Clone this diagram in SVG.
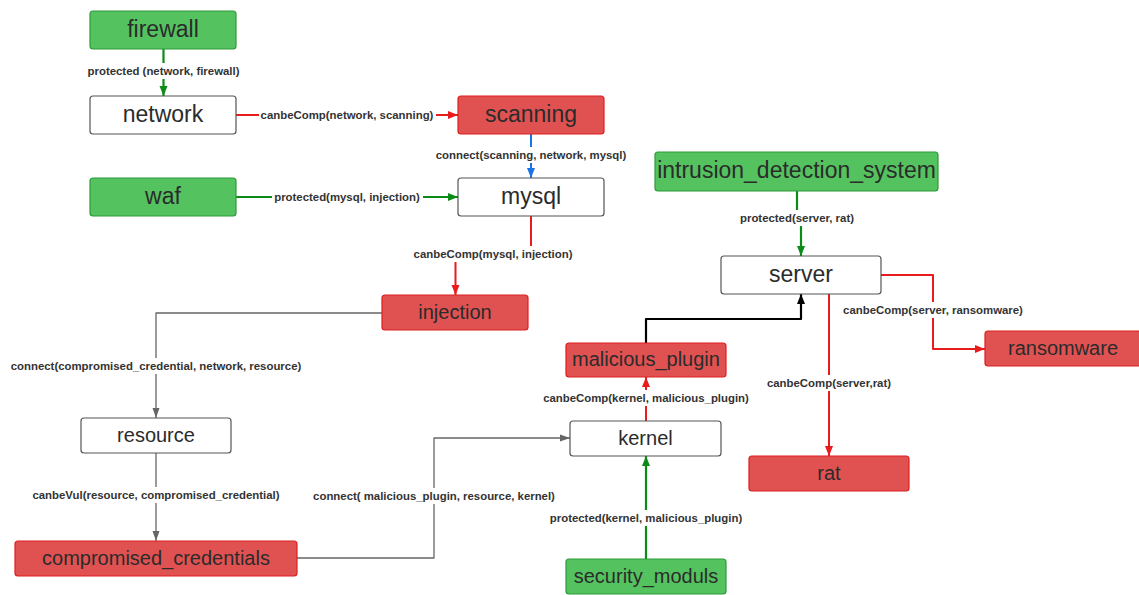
<svg xmlns="http://www.w3.org/2000/svg" width="1139" height="595" viewBox="0 0 1139 595">
<style>
.n rect{rx:3;ry:3;stroke-width:1.2}
.g rect{fill:#54c35f;stroke:#2e9a3a}
.r rect{fill:#e05252;stroke:#e01e1e}
.w rect{fill:#fff;stroke:#555}
.n text{font-family:"Liberation Sans",Arial,sans-serif;fill:#2b2b2b;text-anchor:middle;dominant-baseline:central}
.big{font-size:23px}
.sm{font-size:20px}
.e path{fill:none;stroke-linejoin:round}
.lg{stroke:#0b8c16;stroke-width:2.2}
.lr{stroke:#e81c1c;stroke-width:2}
.lb{stroke:#1a73e8;stroke-width:2}
.lk{stroke:#000;stroke-width:2.2}
.ly{stroke:#666;stroke-width:1.3}
.lbl rect{fill:#fff}
.lbl text{font-family:"Liberation Sans",Arial,sans-serif;font-weight:bold;font-size:11.4px;fill:#333;text-anchor:middle;dominant-baseline:central}
</style>
<defs>
<marker id="ag" markerUnits="userSpaceOnUse" markerWidth="10" markerHeight="10" viewBox="0 0 10 10" refX="10" refY="5" orient="auto"><path d="M0,1 L10,5 L0,9 Z" fill="#0b8c16"/></marker>
<marker id="ar" markerUnits="userSpaceOnUse" markerWidth="10" markerHeight="10" viewBox="0 0 10 10" refX="10" refY="5" orient="auto"><path d="M0,1 L10,5 L0,9 Z" fill="#e81c1c"/></marker>
<marker id="ab" markerUnits="userSpaceOnUse" markerWidth="10" markerHeight="10" viewBox="0 0 10 10" refX="10" refY="5" orient="auto"><path d="M0,1 L10,5 L0,9 Z" fill="#1a73e8"/></marker>
<marker id="ak" markerUnits="userSpaceOnUse" markerWidth="10" markerHeight="10" viewBox="0 0 10 10" refX="10" refY="5" orient="auto"><path d="M0,1 L10,5 L0,9 Z" fill="#000"/></marker>
<marker id="ay" markerUnits="userSpaceOnUse" markerWidth="10" markerHeight="10" viewBox="0 0 10 10" refX="10" refY="5" orient="auto"><path d="M0,1.5 L10,5 L0,8.5 Z" fill="#666"/></marker>
</defs>
<rect width="1139" height="595" fill="#fff"/>
<g id="connectors" class="e">
<path class="lg" d="M163.5,49 V96" marker-end="url(#ag)"/>
<path class="lr" d="M236,115 H458" marker-end="url(#ar)"/>
<path class="lb" d="M531,134 V178" marker-end="url(#ab)"/>
<path class="lg" d="M236,197 H458" marker-end="url(#ag)"/>
<path class="lr" d="M531,216 V254 H455.5 V295" marker-end="url(#ar)"/>
<path class="lg" d="M797,191 V218 H801 V256" marker-end="url(#ag)"/>
<path class="lr" d="M881,275 H933 V349 H985" marker-end="url(#ar)"/>
<path class="lr" d="M829,294 V456" marker-end="url(#ar)"/>
<path class="ly" d="M382,313 H156 V418" marker-end="url(#ay)"/>
<path class="ly" d="M156,453 V541" marker-end="url(#ay)"/>
<path class="ly" d="M297,558 H434 V438 H570" marker-end="url(#ay)"/>
<path class="lr" d="M646,421 V377" marker-end="url(#ar)"/>
<path class="lk" d="M646,343 V319 H801 V294" marker-end="url(#ak)"/>
<path class="lg" d="M646,559 V456" marker-end="url(#ag)"/>
<g class="lbl">
<rect x="85" y="63" width="157" height="16"/><text x="163.5" y="71">protected (network, firewall)</text>
<rect x="259" y="107" width="177" height="16"/><text x="347" y="115">canbeComp(network, scanning)</text>
<rect x="433" y="147" width="196" height="16"/><text x="531" y="155">connect(scanning, network, mysql)</text>
<rect x="272" y="189" width="151" height="16"/><text x="347" y="197">protected(mysql, injection)</text>
<rect x="411" y="246" width="164" height="16"/><text x="493" y="254">canbeComp(mysql, injection)</text>
<rect x="738" y="210" width="118" height="16"/><text x="797" y="218">protected(server, rat)</text>
<rect x="841" y="302" width="184" height="16"/><text x="933" y="310">canbeComp(server, ransomware)</text>
<rect x="8" y="358" width="296" height="16"/><text x="156" y="366">connect(compromised_credential, network, resource)</text>
<rect x="765" y="375" width="129" height="16"/><text x="829" y="383">canbeComp(server,rat)</text>
<rect x="540" y="390" width="211" height="16"/><text x="646" y="398">canbeComp(kernel, malicious_plugin)</text>
<rect x="31" y="487" width="252" height="16"/><text x="156" y="495">canbeVul(resource, compromised_credential)</text>
<rect x="311" y="488" width="247" height="16"/><text x="434" y="496">connect( malicious_plugin, resource, kernel)</text>
<rect x="547" y="510" width="198" height="16"/><text x="646" y="518">protected(kernel, malicious_plugin)</text>
</g>
</g>
<g id="firewall" class="n g"><rect x="90" y="11" width="146" height="38"/><text class="big" x="163" y="29">firewall</text></g>
<g id="network" class="n w"><rect x="90" y="96" width="146" height="38"/><text class="big" x="163" y="114">network</text></g>
<g id="scanning" class="n r"><rect x="458" y="96" width="146" height="38"/><text class="big" x="531" y="114">scanning</text></g>
<g id="waf" class="n g"><rect x="90" y="178" width="146" height="38"/><text class="big" x="163" y="196">waf</text></g>
<g id="mysql" class="n w"><rect x="458" y="178" width="146" height="38"/><text class="big" x="531" y="196">mysql</text></g>
<g id="intrusion_detection_system" class="n g"><rect x="655" y="152" width="283" height="39"/><text class="big" x="796.5" y="170">intrusion_detection_system</text></g>
<g id="server" class="n w"><rect x="721" y="256" width="160" height="38"/><text class="big" x="801" y="274">server</text></g>
<g id="injection" class="n r"><rect x="382" y="295" width="146" height="35"/><text class="sm" x="455" y="311.5">injection</text></g>
<g id="ransomware" class="n r"><rect x="985" y="331" width="156" height="35"/><text class="sm" x="1063" y="347.5">ransomware</text></g>
<g id="malicious_plugin" class="n r"><rect x="566" y="343" width="160" height="34"/><text class="sm" x="646" y="359">malicious_plugin</text></g>
<g id="resource" class="n w"><rect x="81" y="418" width="150" height="35"/><text class="sm" x="156" y="434.5">resource</text></g>
<g id="kernel" class="n w"><rect x="570" y="421" width="151" height="35"/><text class="sm" x="645.5" y="437.5">kernel</text></g>
<g id="rat" class="n r"><rect x="749" y="456" width="160" height="35"/><text class="sm" x="829" y="472.5">rat</text></g>
<g id="compromised_credentials" class="n r"><rect x="15" y="541" width="282" height="35"/><text class="sm" x="156" y="557.5">compromised_credentials</text></g>
<g id="security_moduls" class="n g"><rect x="566" y="559" width="160" height="35"/><text class="sm" x="646" y="575.5">security_moduls</text></g>
</svg>
